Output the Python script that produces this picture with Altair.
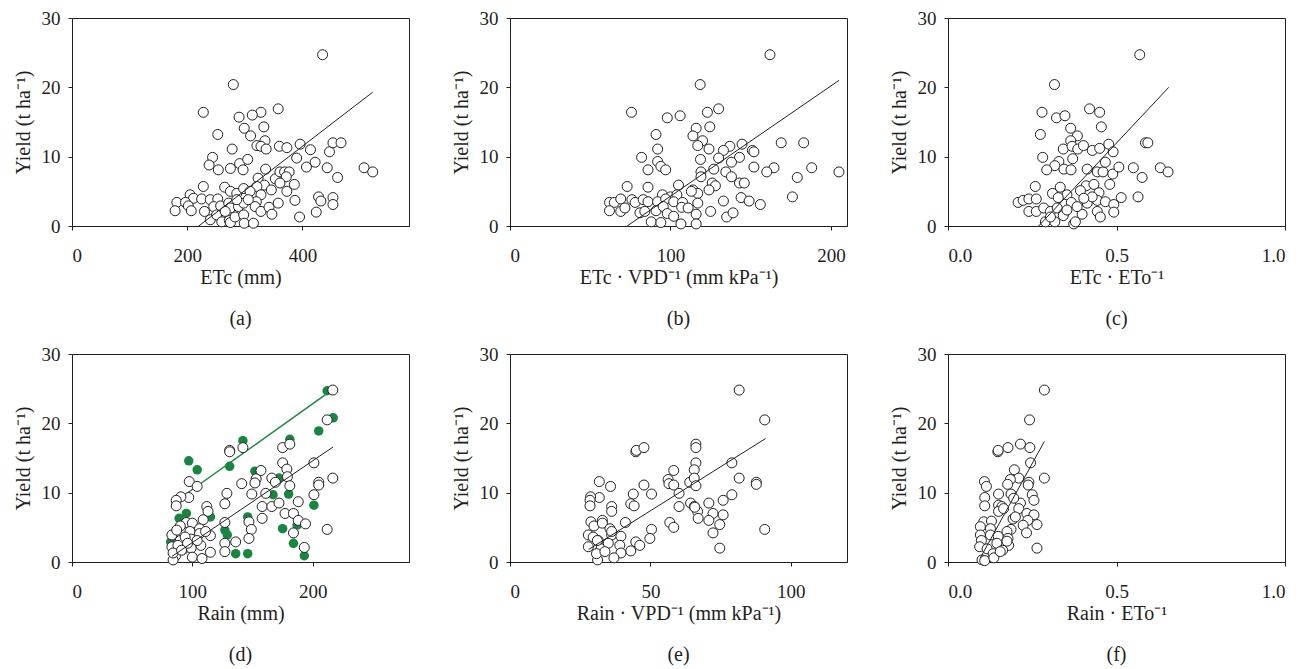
import altair as alt
import pandas as pd

# ---------------- data ----------------
# (a) ETc (mm)
a_x = [435, 280, 228, 358, 328, 313, 290, 333, 299, 310, 253, 335, 321, 328, 337, 278, 360, 373, 396, 414,
       447, 453, 467, 390, 422, 407, 443, 461, 507, 522, 244, 238, 254, 275, 291, 305, 297, 336, 323, 353,
       361, 369, 377, 372, 386, 361, 334, 321, 346, 373, 328, 228, 265, 275, 286, 298, 309, 205, 211, 225,
       240, 253, 182, 197, 179, 202, 207, 230, 246, 258, 272, 275, 289, 298, 320, 318, 328, 342, 347, 358,
       387, 240, 251, 260, 273, 275, 283, 298, 299, 315, 395, 428, 432, 424, 453, 453, 266, 286, 306]
a_y = [24.7, 20.4, 16.4, 16.9, 16.4, 16.0, 15.7, 14.3, 14.1, 13.0, 13.2, 12.3, 11.6, 11.5, 11.1, 11.1, 11.5, 11.3, 11.8, 11.0,
       10.7, 12.0, 12.0, 9.8, 9.2, 8.5, 8.4, 7.0, 8.4, 7.8, 9.9, 8.8, 8.1, 8.3, 9.0, 9.6, 8.1, 8.2, 6.9, 6.8,
       7.8, 7.8, 7.8, 7.1, 6.0, 6.2, 5.9, 5.7, 5.2, 5.0, 4.5, 5.7, 5.6, 5.0, 4.7, 5.4, 5.0, 4.5, 4.0, 3.9,
       3.8, 3.9, 3.4, 3.4, 2.2, 2.9, 2.2, 2.1, 2.8, 2.9, 3.3, 2.6, 2.8, 3.3, 3.5, 2.8, 2.1, 2.7, 1.7, 3.3,
       3.7, 0.9, 1.6, 0.6, 0.8, 0.5, 1.3, 1.6, 0.4, 0.4, 1.3, 4.2, 3.6, 2.0, 4.1, 3.1, 2.1, 3.8, 3.8]
a_line_x = [220, 522]
a_line_y = [0.0, 19.3]

# (b) ETc · VPD-1 (mm kPa-1)
b_x = [162, 118.5, 75.7, 130, 123, 106, 98, 116, 124.5, 91, 114, 120, 117, 124, 92, 137, 133, 144.6, 151, 152,
       169, 183, 143, 138, 130, 118.7, 152, 164.5, 160, 188, 205, 179, 82, 86, 92, 94, 97, 119, 127, 134.5,
       138, 143, 146, 119, 126, 128, 124, 114, 117, 105, 73, 86, 95, 100, 104, 113, 62, 65, 69, 76,
       78, 83, 86, 92, 97, 102, 107.5, 117, 133, 144, 149, 156, 176, 62, 69, 71.6, 81, 84, 91, 95.5,
       98, 102, 107, 111, 116, 125, 135, 139, 88, 94, 106.5, 116]
b_y = [24.7, 20.4, 16.4, 16.9, 16.4, 15.9, 15.6, 14.1, 14.3, 13.2, 13.0, 12.3, 11.6, 11.1, 11.1, 11.5, 10.9, 11.8, 10.9, 10.7,
       12.0, 12.0, 9.9, 9.2, 9.8, 9.6, 8.5, 8.4, 7.8, 8.4, 7.8, 7.0, 9.9, 8.1, 9.3, 8.6, 8.1, 7.8, 8.2, 7.8,
       7.1, 6.2, 6.2, 7.1, 6.2, 5.8, 5.2, 5.2, 4.7, 5.9, 5.7, 5.6, 4.5, 4.2, 4.5, 5.0, 3.4, 3.4, 3.9, 3.8,
       3.4, 3.8, 3.5, 3.5, 3.9, 3.5, 3.4, 3.3, 3.6, 4.1, 3.6, 3.1, 4.2, 2.2, 2.1, 2.6, 1.9, 2.1, 2.2, 2.8,
       1.8, 1.4, 2.7, 2.6, 1.7, 2.1, 1.3, 1.9, 0.6, 0.5, 0.3, 0.3]
b_line_x = [73, 205]
b_line_y = [0.0, 21.0]

# (c) ETc · ETo-1
c_x = [0.569, 0.316, 0.279, 0.322, 0.347, 0.420, 0.450, 0.455, 0.364, 0.274, 0.384, 0.364, 0.342, 0.368, 0.385, 0.402,
       0.428, 0.450, 0.477, 0.490, 0.586, 0.593, 0.281, 0.329, 0.370, 0.317, 0.344, 0.365, 0.293, 0.413, 0.443, 0.460,
       0.467, 0.489, 0.507, 0.550, 0.576, 0.630, 0.653, 0.480, 0.259, 0.333, 0.410, 0.433, 0.393, 0.448, 0.310, 0.353,
       0.208, 0.223, 0.240, 0.262, 0.327, 0.366, 0.413, 0.443, 0.467, 0.492, 0.514, 0.564, 0.240, 0.262, 0.284, 0.304,
       0.324, 0.344, 0.398, 0.443, 0.452, 0.492, 0.289, 0.317, 0.342, 0.373, 0.378, 0.304, 0.353, 0.383, 0.428, 0.403]
c_y = [24.7, 20.4, 16.4, 15.6, 15.9, 16.9, 16.4, 14.3, 14.1, 13.2, 13.0, 12.3, 11.1, 11.5, 11.1, 11.6,
       10.9, 11.2, 11.8, 10.7, 12.0, 12.0, 9.9, 9.3, 9.7, 8.7, 8.2, 8.1, 8.1, 8.2, 7.8, 7.8,
       9.2, 7.5, 8.5, 8.4, 7.0, 8.4, 7.8, 6.0, 5.7, 5.6, 5.8, 6.0, 5.1, 4.8, 4.7, 4.5,
       3.4, 3.7, 3.9, 3.9, 4.1, 3.4, 3.3, 3.7, 3.5, 3.1, 4.1, 4.2, 2.1, 2.1, 2.6, 2.1,
       2.6, 1.8, 1.7, 2.1, 1.3, 2.0, 0.6, 0.6, 1.5, 0.3, 0.6, 1.3, 2.3, 2.8, 4.2, 4.0]
c_line_x = [0.269, 0.655]
c_line_y = [0.0, 20.0]

# (d) Rain (mm): open circles and green dots
d_x = [216.7, 212, 131, 131, 142, 175, 181, 175, 201, 178.5, 179, 181, 205, 205, 216.7, 97.4, 104, 97, 90.5, 86.6,
       86.6, 128.7, 127, 141, 149.4, 153, 157, 152, 161, 166, 169, 158, 166, 172, 177, 184, 188, 188, 194, 201,
       184, 193, 212, 158, 147, 149, 147, 127, 136, 127, 127, 112, 113, 109, 95, 90, 100, 106, 115, 83,
       87, 98, 106, 90, 99, 107, 83, 93, 99, 115, 86, 84, 100, 108, 88, 94, 104, 111, 96, 84, 91]
d_y = [24.8, 20.5, 16.1, 15.9, 16.5, 16.5, 17.0, 14.3, 14.3, 13.4, 12.3, 11.0, 11.5, 11.1, 12.1, 11.6, 10.9, 9.3, 9.4, 8.9,
       8.1, 9.9, 8.4, 11.3, 9.8, 12.0, 13.2, 11.4, 9.9, 12.1, 11.5, 8.0, 8.0, 8.5, 7.0, 7.0, 8.7, 6.0, 5.5, 9.7,
       4.2, 2.1, 4.7, 6.3, 5.8, 4.7, 3.4, 5.7, 2.9, 2.7, 1.5, 8.0, 7.3, 6.1, 5.7, 5.2, 5.6, 4.8, 3.8, 3.9,
       4.6, 4.4, 4.1, 3.1, 3.3, 2.4, 2.2, 1.9, 2.0, 1.4, 0.9, 0.3, 0.7, 0.5, 2.4, 3.6, 3.1, 4.4, 2.7, 1.3, 1.7]
d_green_x = [212, 217, 205, 142, 181, 97, 104, 131, 152, 172, 180, 167, 201, 95, 115, 146, 127, 129, 136, 146,
             175, 184, 193, 89, 82, 187]
d_green_y = [24.7, 20.8, 18.9, 17.5, 17.7, 14.6, 13.3, 13.8, 13.1, 12.1, 9.8, 9.7, 8.2, 7.0, 6.5, 6.5, 4.6, 3.9, 1.2, 1.2,
             4.8, 2.7, 0.9, 6.3, 2.9, 5.3]
d_line_x = [83, 217]
d_line_y = [0.8, 16.6]
d_green_line_x = [82.5, 216.7]
d_green_line_y = [8.3, 24.9]

# (e) Rain · VPD-1 (mm kPa-1)
e_x = [81.6, 90.7, 44.8, 45, 47.7, 66.2, 66.2, 66.2, 65.6, 79, 58.3, 56.3, 56.6, 58.3, 64, 65.6, 66.2, 81.6, 87.7, 87.7,
       79, 75.9, 60.2, 60.2, 64.3, 65.6, 66.8, 67, 70.8, 72.3, 70.8, 75.9, 74.7, 72.3, 74.7, 90.7, 31.8, 35.8, 31.8, 28.7,
       28.5, 28.5, 43.9, 47.7, 50.4, 43, 44.2, 36.2, 36.2, 56.9, 58.3, 50.4, 49.8, 41.1, 28.8, 32.9, 29.9, 32.9, 35.6, 36.2,
       39.5, 27.9, 29.6, 31.4, 27.9, 32.4, 35, 39.1, 43, 44.8, 46.2, 39.5, 37, 31.2, 30.8, 33.8, 31.1, 36.2, 65.8]
e_y = [24.8, 20.5, 15.9, 16.1, 16.5, 17.0, 16.5, 14.3, 13.3, 14.3, 13.2, 11.9, 11.3, 11.1, 11.5, 12.1, 11.0, 12.1, 11.5, 11.2,
       9.7, 8.9, 9.9, 8.0, 8.5, 8.0, 7.3, 6.3, 8.5, 7.0, 6.0, 6.8, 5.4, 4.2, 2.0, 4.7, 11.6, 10.9, 9.3, 9.4,
       8.9, 8.1, 9.8, 11.1, 9.8, 8.4, 8.1, 8.0, 7.3, 5.7, 5.0, 4.7, 3.4, 5.7, 5.8, 6.0, 5.2, 5.6, 4.8, 3.9,
       3.7, 3.9, 3.6, 3.1, 2.2, 1.9, 2.7, 2.4, 1.6, 2.9, 2.4, 1.3, 0.6, 0.3, 1.2, 1.5, 3.1, 4.4, 7.9]
e_line_x = [28, 91]
e_line_y = [1.8, 17.8]

# (f) Rain · ETo-1
f_x = [0.286, 0.242, 0.148, 0.149, 0.178, 0.215, 0.243, 0.245, 0.197, 0.286, 0.108, 0.114, 0.109, 0.109, 0.210, 0.185,
       0.177, 0.240, 0.238, 0.150, 0.187, 0.250, 0.255, 0.215, 0.150, 0.160, 0.210, 0.234, 0.255, 0.193, 0.150, 0.237,
       0.264, 0.223, 0.187, 0.233, 0.264, 0.106, 0.129, 0.096, 0.126, 0.096, 0.126, 0.099, 0.149, 0.175, 0.178, 0.180,
       0.094, 0.116, 0.145, 0.162, 0.134, 0.101, 0.109, 0.136, 0.155, 0.175, 0.200, 0.195, 0.165]
f_y = [24.8, 20.5, 15.9, 16.1, 16.5, 17.0, 16.5, 14.3, 13.3, 12.1, 11.6, 10.9, 9.3, 8.1, 12.1, 11.9,
       11.2, 11.5, 11.1, 9.8, 9.8, 9.7, 8.9, 8.5, 8.2, 8.0, 7.7, 7.0, 6.8, 6.2, 7.3, 6.0,
       5.4, 5.3, 4.7, 4.2, 2.0, 5.8, 5.9, 5.1, 4.8, 3.9, 3.9, 3.1, 3.7, 4.4, 3.4, 2.4,
       2.2, 1.9, 2.7, 1.7, 1.2, 0.3, 0.2, 0.6, 1.5, 3.0, 6.5, 9.2, 7.7]
f_line_x = [0.096, 0.286]
f_line_y = [0.6, 17.4]

y_ticks = [0, 10, 20, 30]
y_title = "Yield (t ha\u207b\u00b9)"

# ---------------- styling ----------------
FONT = "Liberation Serif"
INK = "#231f20"
GREEN = "#17873f"
W, H = 337, 208


def panel(xs, ys, lx, ly, xdom, xticks, xtitle, label, fmt, gx=None, gy=None, glx=None, gly=None):
    xscale = alt.Scale(domain=xdom, nice=False, zero=False)
    yscale = alt.Scale(domain=[0, 30], nice=False)
    xaxis = alt.Axis(values=xticks, title=xtitle, format=fmt)
    yaxis = alt.Axis(values=y_ticks, title=y_title)
    X = lambda: alt.X("x:Q", scale=xscale, axis=xaxis)
    Y = lambda: alt.Y("y:Q", scale=yscale, axis=yaxis)

    layers = []
    if gx is not None:
        layers.append(
            alt.Chart(pd.DataFrame({"x": gx, "y": gy}))
            .mark_circle(size=90, color=GREEN, opacity=1)
            .encode(x=X(), y=Y())
        )
        layers.append(
            alt.Chart(pd.DataFrame({"x": glx, "y": gly}))
            .mark_line(color=GREEN, strokeWidth=1.4)
            .encode(x=X(), y=Y())
        )
    layers.append(
        alt.Chart(pd.DataFrame({"x": xs, "y": ys}))
        .mark_point(shape="circle", size=100, filled=True, fill="white", stroke=INK, strokeWidth=1, opacity=1)
        .encode(x=X(), y=Y())
    )
    layers.append(
        alt.Chart(pd.DataFrame({"x": lx, "y": ly}))
        .mark_line(color=INK, strokeWidth=1)
        .encode(x=X(), y=Y())
    )
    return alt.layer(*layers).properties(
        width=W,
        height=H,
        title=alt.TitleParams(text=label, orient="bottom", offset=22, fontSize=20,
                              font=FONT, fontWeight="normal", color=INK, anchor="middle"),
    )


pa = panel(a_x, a_y, a_line_x, a_line_y, [0, 585], [0, 200, 400], "ETc (mm)", "(a)", "d")
pb = panel(b_x, b_y, b_line_x, b_line_y, [0, 210], [0, 100, 200], "ETc \u00b7 VPD\u207b\u00b9 (mm kPa\u207b\u00b9)", "(b)", "d")
pc = panel(c_x, c_y, c_line_x, c_line_y, [0, 1], [0, 0.5, 1.0], "ETc \u00b7 ETo\u207b\u00b9", "(c)", ".1f")
pd_ = panel(d_x, d_y, d_line_x, d_line_y, [0, 280], [0, 100, 200], "Rain (mm)", "(d)", "d",
            d_green_x, d_green_y, d_green_line_x, d_green_line_y)
pe = panel(e_x, e_y, e_line_x, e_line_y, [0, 120], [0, 50, 100], "Rain \u00b7 VPD\u207b\u00b9 (mm kPa\u207b\u00b9)", "(e)", "d")
pf = panel(f_x, f_y, f_line_x, f_line_y, [0, 1], [0, 0.5, 1.0], "Rain \u00b7 ETo\u207b\u00b9", "(f)", ".1f")

chart = (
    alt.vconcat(
        alt.hconcat(pa, pb, pc, spacing=40),
        alt.hconcat(pd_, pe, pf, spacing=40),
        spacing=14,
    )
    .properties(padding={"left": 4, "top": 0, "right": 2, "bottom": 2}, background="white")
    .configure_view(stroke=INK, strokeWidth=1)
    .configure_axis(
        grid=False,
        domainColor=INK,
        tickColor=INK,
        tickSize=4,
        labelFont=FONT,
        labelFontSize=19,
        labelColor=INK,
        titleFont=FONT,
        titleFontSize=20,
        titleFontWeight="normal",
        titleColor=INK,
    )
    .configure_axisX(labelPadding=16, titlePadding=2)
    .configure_axisY(labelPadding=8, titlePadding=8)
)

chart.save("out.html", embed_options={"renderer": "svg", "actions": False})
